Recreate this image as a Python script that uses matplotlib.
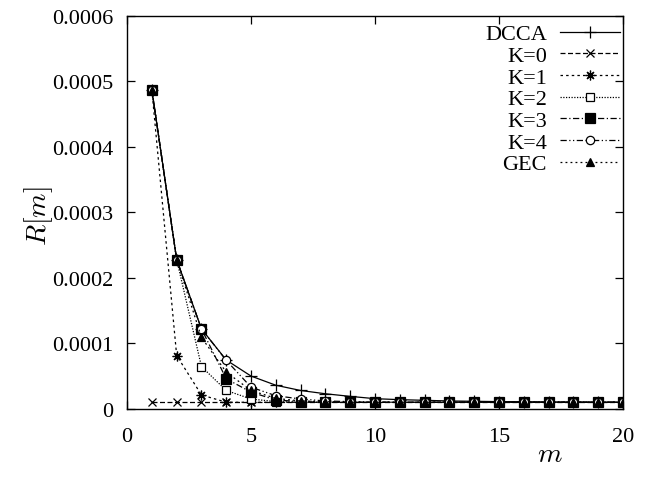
import numpy as np
import matplotlib
matplotlib.use("Agg")
import matplotlib.pyplot as plt

plt.rcParams['font.family'] = ['Liberation Serif', 'DejaVu Serif']
plt.rcParams['mathtext.fontset'] = 'cm'

m = np.arange(1, 21)

dcca = [4.87e-4, 2.28e-4, 1.22e-4, 7.45e-5, 5.0e-5, 3.6e-5, 2.8e-5, 2.3e-5, 1.9e-5, 1.55e-5,
        1.4e-5, 1.3e-5, 1.2e-5, 1.15e-5, 1.1e-5, 1.08e-5, 1.05e-5, 1.03e-5, 1.02e-5, 1.01e-5]
k0 = [1.0e-5] * 20
k1 = [4.87e-4, 8.14e-5, 2.12e-5] + [1.0e-5] * 17
k2 = [4.87e-4, 2.28e-4, 6.45e-5, 2.8e-5, 1.5e-5, 1.1e-5] + [1.0e-5] * 14
k3 = [4.87e-4, 2.28e-4, 1.22e-4, 4.58e-5, 2.55e-5, 1.35e-5, 1.1e-5] + [1.0e-5] * 13
k4 = [4.87e-4, 2.28e-4, 1.22e-4, 7.4e-5, 3.3e-5, 2.0e-5, 1.5e-5, 1.2e-5, 1.1e-5] + [1.0e-5] * 11
gec = [4.87e-4, 2.28e-4, 1.09e-4, 5.6e-5, 2.8e-5, 1.6e-5, 1.2e-5, 1.1e-5] + [1.0e-5] * 12

series = [
    ('DCCA', dcca, dict(ls='-', marker='+', ms=9, mfc='k')),
    ('K=0', k0, dict(ls=(0, (4, 2)), marker='x', ms=6, mfc='k')),
    ('K=1', k1, dict(ls=(0, (2, 2.5)), marker=(8, 2, 0), ms=7, mfc='k')),
    ('K=2', k2, dict(ls=(0, (1, 1.2)), marker='s', ms=6, mfc='white')),
    ('K=3', k3, dict(ls=(0, (5, 2, 1, 2)), marker='s', ms=7, mfc='k')),
    ('K=4', k4, dict(ls=(0, (5, 2, 1, 2, 1, 2)), marker='o', ms=6, mfc='white')),
    ('GEC', gec, dict(ls=(0, (1.5, 2.5)), marker='^', ms=6, mfc='k')),
]

fig = plt.figure(figsize=(6.45, 4.85), dpi=100)
ax = fig.add_axes([0.197, 0.155, 0.769, 0.81])

for name, vals, st in series:
    ax.plot(m, vals, color='k', lw=0.9, mec='k', mew=0.9, label=name, **st)

ax.set_xlim(0, 20)
ax.set_ylim(0, 0.0006)
ax.set_xticks([0, 5, 10, 15, 20])
ax.set_yticks([0, 0.0001, 0.0002, 0.0003, 0.0004, 0.0005, 0.0006])
ax.set_yticklabels(['0', '0.0001', '0.0002', '0.0003', '0.0004', '0.0005', '0.0006'])
ax.tick_params(direction='in', top=True, right=True, length=6, width=0.9, labelsize=16)
ax.tick_params(axis='x', pad=13)
ax.tick_params(axis='y', pad=10)
for s in ax.spines.values():
    s.set_linewidth(1.0)

fig.text(0.06, 0.555, r'$R[m]$', rotation=90, fontsize=20, ha='center', va='center')
fig.text(0.853, 0.06, r'$m$', fontsize=20, ha='center', va='center')

ax.legend(loc='upper right', markerfirst=False, frameon=False, fontsize=16,
          handlelength=2.7, handletextpad=0.6, labelspacing=0.05,
          borderpad=0, borderaxespad=0, bbox_to_anchor=(0.994, 0.98))

fig.savefig('out.png', dpi=100)
